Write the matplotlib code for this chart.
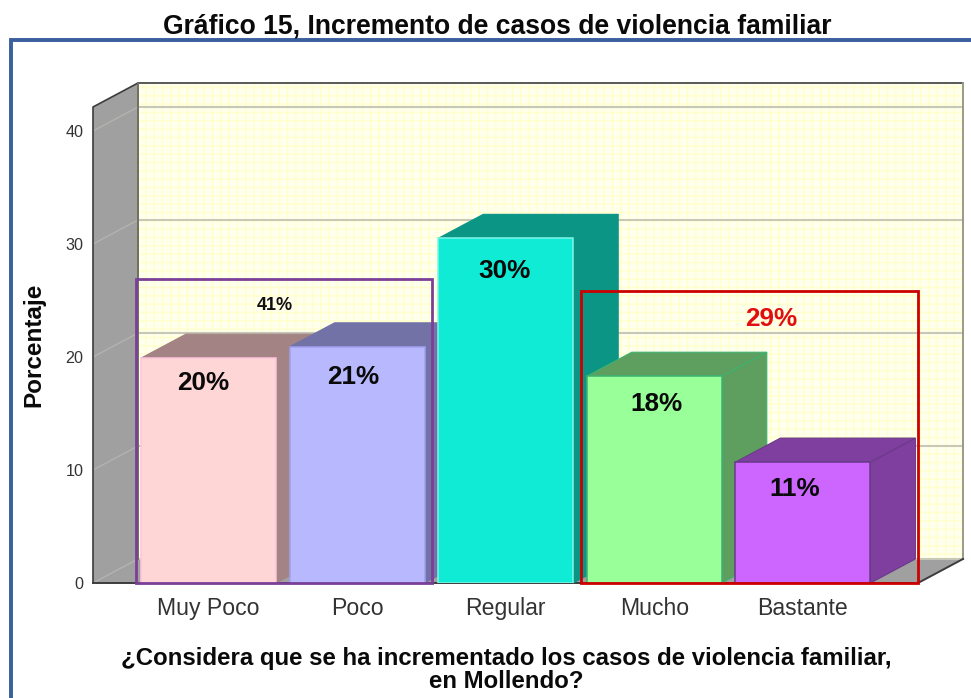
import matplotlib
matplotlib.use("Agg")
import matplotlib.pyplot as plt
from matplotlib.patches import Polygon, Rectangle

categories = ["Muy Poco", "Poco", "Regular", "Mucho", "Bastante"]
values = [19.9, 20.9, 30.5, 18.3, 10.7]
value_labels = ["20%", "21%", "30%", "18%", "11%"]
y_ticks = [0, 10, 20, 30, 40]

front_colors = ["#FFD6D6", "#B8B8FF", "#10EBD5", "#99FF99", "#CC66FF"]
side_colors = ["#A38383", "#7272A6", "#0B9585", "#5E9E5E", "#7F3F9F"]
edge_colors = ["#FFC4DC", "#A0A0F0", "#7FF5E8", "#3CB371", "#6A3A8A"]
label_dy_px = [25, 30, 33, 28, 27]
label_dx_px = [-5.5, -3.5, -1.0, 2.5, -8.0]

W, H = 971, 698
plt.rcParams["font.family"] = ["Liberation Sans", "DejaVu Sans"]
plt.rcParams["hatch.linewidth"] = 1.0
fig = plt.figure(figsize=(W / 100, H / 100), dpi=100)

# front plane of the chart box
PX_L, PX_R, PX_0, PX_TOP = 93, 918, 583, 107
PX_PER_Y = 11.3
PX_PER_X = 148.6
X0_PX = 208.5
ax = fig.add_axes([PX_L / W, 1 - PX_0 / H, (PX_R - PX_L) / W, (PX_0 - PX_TOP) / H])
ax.set_xlim((PX_L - X0_PX) / PX_PER_X, (PX_R - X0_PX) / PX_PER_X)
ax.set_ylim(0, (PX_0 - PX_TOP) / PX_PER_Y)
ax.patch.set_visible(False)
for s in ax.spines.values():
    s.set_visible(False)
DX = 45 / PX_PER_X
DY = 24 / PX_PER_Y
XL, XR = ax.get_xlim()
YT = ax.get_ylim()[1]
BW = 135 / PX_PER_X


def poly(pts, **kw):
    kw.setdefault("clip_on", False)
    ax.add_patch(Polygon(pts, closed=True, **kw))


# walls
poly([(XL + DX, DY), (XR + DX, DY), (XR + DX, YT + DY), (XL + DX, YT + DY)],
     facecolor="#FFFFEE", edgecolor="#FFFFCC", hatch="++", lw=0, zorder=1)
poly([(XL, 0), (XL + DX, DY), (XL + DX, YT + DY), (XL, YT)],
     facecolor="#A0A0A0", edgecolor="none", zorder=2)
poly([(XL, 0), (XL + DX, DY), (XR + DX, DY), (XR, 0)],
     facecolor="#A0A0A0", edgecolor="none", zorder=2)
for t in y_ticks:
    ax.plot([XL, XL + DX], [t, t + DY], color="#B2B2AE", lw=1.0,
            zorder=3, clip_on=False)
    ax.plot([XL + DX, XR + DX], [t + DY, t + DY], color="#C8C8B8", lw=1.5,
            zorder=3, clip_on=False)
# box edges
ax.plot([XL, XL, XL + DX, XR + DX], [0, YT, YT + DY, YT + DY], color="#3C3C3C", lw=1.2, zorder=4, clip_on=False)
ax.plot([XL + DX, XL + DX], [DY, YT + DY], color="#70705E", lw=1.4, zorder=4, clip_on=False)
ax.plot([XR + DX, XR + DX], [DY, YT + DY], color="#9A9A88", lw=1.4, zorder=4, clip_on=False)
ax.plot([XL, XR, XR + DX], [0, 0, DY], color="#3C3C3C", lw=1.4, zorder=4, clip_on=False)

# bars
for i, (v, fc, sc, ec) in enumerate(zip(values, front_colors, side_colors, edge_colors)):
    z = 5 + i
    l, r = i - BW / 2, i + BW / 2
    poly([(r, 0), (r + DX, DY), (r + DX, v + DY), (r, v)], facecolor=sc, edgecolor=ec if i > 2 else sc, lw=0.8, zorder=z)
    poly([(l, v), (r, v), (r + DX, v + DY), (l + DX, v + DY)], facecolor=sc, edgecolor=ec if i > 2 else sc, lw=0.8, zorder=z)
    ax.bar(i, v, width=BW, color=fc, edgecolor=ec, linewidth=1.1, zorder=z + 0.5)
    ax.text(i + label_dx_px[i] / PX_PER_X, v - label_dy_px[i] / PX_PER_Y, value_labels[i],
            ha="center", va="center", fontsize=18.8, fontweight="bold", color="#0A0A0A", zorder=20)

# ticks
ax.set_xticks(range(len(categories)), categories)
ax.set_yticks(y_ticks)
ax.tick_params(axis="x", length=0, pad=10, labelsize=16.6, labelcolor="#333333")
ax.tick_params(axis="y", length=0, pad=7, labelsize=11.6, labelcolor="#333333")


def fx(px):
    return px / W


def fy(px):
    return 1 - px / H


# summary boxes and labels
fig.add_artist(Rectangle((fx(136), fy(583)), fx(432 - 136), 304 / H, transform=fig.transFigure,
                         fill=False, edgecolor="#7B3F98", lw=2.0, zorder=30))
fig.add_artist(Rectangle((fx(581), fy(583)), fx(918 - 581), 292 / H, transform=fig.transFigure,
                         fill=False, edgecolor="#CC0000", lw=2.0, zorder=30))
fig.text(fx(275), fy(306), "41%", ha="center", va="center", fontsize=13, fontweight="bold", color="#111111", zorder=31)
fig.text(fx(771), fy(319), "29%", ha="center", va="center", fontsize=18.8, fontweight="bold", color="#E01010", zorder=31)

# page frame
fig.add_artist(plt.Line2D([fx(11), fx(11), 1], [0, fy(40), fy(40)], transform=fig.transFigure,
                          color="#3A5F9F", lw=2.8, solid_joinstyle="miter"))

# titles
fig.text(fx(497), fy(26), "Gráfico 15, Incremento de casos de violencia familiar", ha="center", va="center",
         fontsize=19.1, fontweight="bold", color="#0A0A0A")
fig.text(fx(34), fy(345), "Porcentaje", rotation=90, ha="center", va="center",
         fontsize=17.5, fontweight="bold", color="#0A0A0A")
fig.text(fx(506), fy(658), "¿Considera que se ha incrementado los casos de violencia familiar,", ha="center", va="center",
         fontsize=17.3, fontweight="bold", color="#0A0A0A")
fig.text(fx(506), fy(681), "en Mollendo?", ha="center", va="center",
         fontsize=17.3, fontweight="bold", color="#0A0A0A")

fig.savefig("out.png", dpi=100, facecolor="white")
